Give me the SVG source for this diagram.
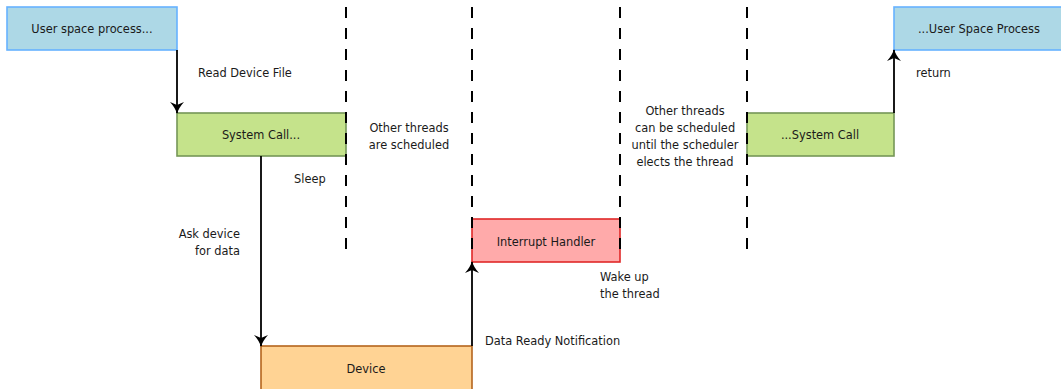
<svg xmlns="http://www.w3.org/2000/svg" width="1061" height="389" viewBox="0 0 1061 389">
<style>
text{font-family:"DejaVu Sans","Liberation Sans",sans-serif;font-size:11.4px;fill:#1a1a1a}
.c{text-anchor:middle}
.r{text-anchor:end}
.blue{fill:#add8e6;stroke:#66b2ff;stroke-width:1.6}
.green{fill:#c5e38b;stroke:#759657;stroke-width:1.6}
.orange{fill:#ffd394;stroke:#b5651d;stroke-width:1.6}
.red{fill:#ffaaaa;stroke:#e02828;stroke-width:1.6}
.dash{stroke:#000;stroke-width:2;stroke-dasharray:11 10;fill:none}
.arr{stroke:#000;stroke-width:1.8;fill:none;marker-end:url(#ah)}
</style>
<defs>
<marker id="ah" viewBox="0 0 12 14" refX="11" refY="7" markerWidth="12" markerHeight="14" markerUnits="userSpaceOnUse" orient="auto">
<path d="M0,0 Q6,5.5 12,7 Q6,8.5 0,14 L3,7 Z" fill="#000"/>
</marker>
</defs>
<g id="user-start"><rect class="blue" x="7" y="7" width="170" height="43"/><text class="c" x="92" y="33">User space process...</text></g>
<g id="syscall-start"><rect class="green" x="177" y="113" width="169" height="43"/><text class="c" x="261" y="139">System Call...</text></g>
<g id="device"><rect class="orange" x="261" y="346" width="211" height="46"/><text class="c" x="366" y="373">Device</text></g>
<g id="interrupt"><rect class="red" x="472" y="219" width="148" height="43"/><text class="c" x="546" y="246">Interrupt Handler</text></g>
<g id="syscall-end"><rect class="green" x="747" y="113" width="147" height="43"/><text class="c" x="820" y="139">...System Call</text></g>
<g id="user-end"><rect class="blue" x="894" y="7" width="172" height="43"/><text class="c" x="979" y="33">...User Space Process</text></g>
<g id="separators">
<line class="dash" x1="346" y1="7" x2="346" y2="250"/>
<line class="dash" x1="472" y1="7" x2="472" y2="250"/>
<line class="dash" x1="620" y1="7" x2="620" y2="250"/>
<line class="dash" x1="747" y1="7" x2="747" y2="250"/>
</g>
<g id="connectors">
<line class="arr" x1="177" y1="50" x2="177" y2="113"/>
<line class="arr" x1="261" y1="156" x2="261" y2="346"/>
<line class="arr" x1="472" y1="346" x2="472" y2="262"/>
<line class="arr" x1="894" y1="113" x2="894" y2="50"/>
</g>
<g id="labels">
<text x="198" y="77">Read Device File</text>
<text x="294" y="183">Sleep</text>
<text class="c" x="409" y="132">Other threads</text>
<text class="c" x="409" y="149">are scheduled</text>
<text class="r" x="240" y="238">Ask device</text>
<text class="r" x="240" y="255">for data</text>
<text x="600" y="281">Wake up</text>
<text x="600" y="298">the thread</text>
<text x="485" y="345">Data Ready Notification</text>
<text class="c" x="685" y="115">Other threads</text>
<text class="c" x="685" y="132">can be scheduled</text>
<text class="c" x="685" y="149">until the scheduler</text>
<text class="c" x="685" y="166">elects the thread</text>
<text x="916" y="77">return</text>
</g>
</svg>
